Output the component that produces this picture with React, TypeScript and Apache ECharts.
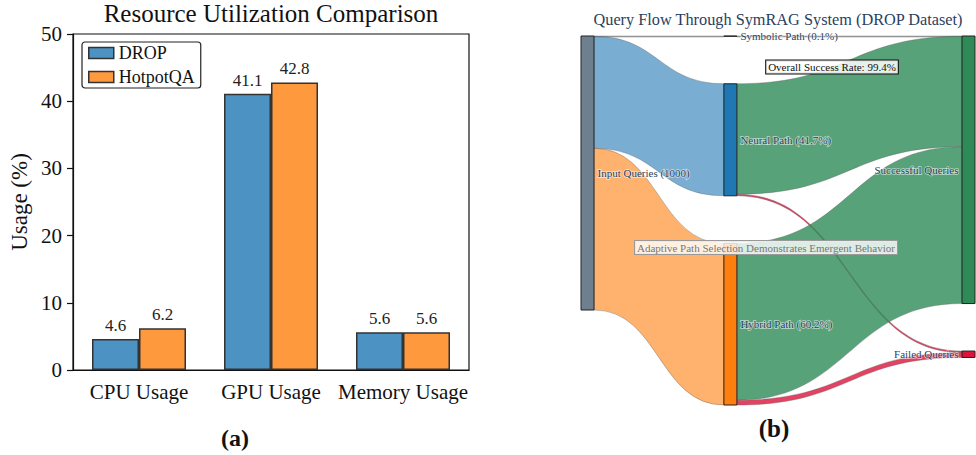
import React, { useEffect, useRef } from 'react';
import * as echarts from 'echarts';

// ---------- Panel (a): bar chart data ----------
const categories = ['CPU Usage', 'GPU Usage', 'Memory Usage'];
const dropUsage = [4.6, 41.1, 5.6];
const hotpotUsage = [6.2, 42.8, 5.6];
const seriesNames = ['DROP', 'HotpotQA'];

// ---------- Panel (b): sankey data ----------
const sankeyNodes = [
  'Input Queries (1000)',
  'Symbolic Path (0.1%)',
  'Neural Path (41.7%)',
  'Hybrid Path (60.2%)',
  'Successful Queries',
  'Failed Queries',
];
const sankeyLevels = [0, 3, 3, 3, 8, 8];
const linkSources = [0, 0, 0, 1, 2, 2, 3, 3];
const linkTargets = [1, 2, 3, 4, 4, 5, 4, 5];
const linkValues = [1, 417, 602, 1, 411, 6, 584, 18];

// styles (kept apart from the data)
const nodeColors = ['#6e7f90', '#333333', '#1f77b4', '#ff7f0e', '#2e8b57', '#dc143c'];
const linkColors = [
  'rgba(120,120,120,0.6)',
  'rgba(31,119,180,0.6)',
  'rgba(255,127,14,0.6)',
  'rgba(120,120,120,0.6)',
  'rgba(46,139,87,0.8)',
  'rgba(220,20,60,0.8)',
  'rgba(46,139,87,0.8)',
  'rgba(220,20,60,0.8)',
];

const SERIF = "'Liberation Serif', 'DejaVu Serif', serif";

export default function App() {
  const ref = useRef<HTMLDivElement>(null);

  useEffect(() => {
    document.body.style.margin = '0';
    if (!ref.current) return;
    const chart = echarts.init(ref.current, undefined, { renderer: 'svg' });

    const axisLineStyle = { color: '#111', width: 1.2 };

    const option: any = {
      animation: false,
      textStyle: { fontFamily: SERIF },
      title: [
        {
          text: 'Resource Utilization Comparison',
          left: 271,
          top: 1,
          textAlign: 'center',
          padding: 0,
          textStyle: { fontFamily: SERIF, fontSize: 25, fontWeight: 'normal', color: '#111' },
        },
        {
          text: 'Query Flow Through SymRAG System (DROP Dataset)',
          left: 778,
          top: 11,
          textAlign: 'center',
          padding: 0,
          textStyle: { fontFamily: SERIF, fontSize: 16.3, fontWeight: 'normal', color: '#2a3f5f' },
        },
      ],
      legend: {
        data: seriesNames,
        orient: 'vertical',
        left: 82,
        top: 42,
        itemWidth: 25,
        itemHeight: 11,
        itemGap: 6,
        padding: [2, 6],
        icon: 'rect',
        borderColor: '#222',
        borderWidth: 1.2,
        borderRadius: 3,
        backgroundColor: 'rgba(255,255,255,0.8)',
        itemStyle: { borderColor: '#333', borderWidth: 1.5 },
        textStyle: { fontFamily: SERIF, fontSize: 18, lineHeight: 18, color: '#111' },
      },
      grid: {
        left: 73,
        top: 34,
        width: 396,
        height: 336,
        show: true,
        borderColor: '#111',
        borderWidth: 1.2,
      },
      xAxis: {
        type: 'category',
        data: categories,
        axisLine: { lineStyle: axisLineStyle },
        axisTick: { alignWithLabel: true, length: 6, lineStyle: axisLineStyle },
        axisLabel: { fontFamily: SERIF, fontSize: 21, color: '#111', margin: 11, interval: 0 },
        splitLine: { show: false },
      },
      yAxis: {
        type: 'value',
        min: 0,
        max: 50,
        interval: 10,
        name: 'Usage (%)',
        nameLocation: 'middle',
        nameRotate: 90,
        nameGap: 42,
        nameTextStyle: { fontFamily: SERIF, fontSize: 23, color: '#111' },
        axisLine: { show: true, lineStyle: axisLineStyle },
        axisTick: { show: true, length: 6, lineStyle: axisLineStyle },
        axisLabel: { fontFamily: SERIF, fontSize: 21, color: '#111', margin: 11 },
        splitLine: { show: false },
      },
      series: [
        {
          name: seriesNames[0],
          type: 'bar',
          data: dropUsage,
          barWidth: 47,
          barGap: '0%',
          itemStyle: { color: '#4c92c3', borderColor: '#333', borderWidth: 1.5 },
          label: {
            show: true,
            position: 'top',
            distance: 5,
            fontFamily: SERIF,
            fontSize: 17,
            color: '#222',
            formatter: (p: any) => Number(p.value).toFixed(1),
          },
        },
        {
          name: seriesNames[1],
          type: 'bar',
          data: hotpotUsage,
          barWidth: 47,
          barGap: '0%',
          itemStyle: { color: '#ff993e', borderColor: '#333', borderWidth: 1.5 },
          label: {
            show: true,
            position: 'top',
            distance: 5,
            fontFamily: SERIF,
            fontSize: 17,
            color: '#222',
            formatter: (p: any) => Number(p.value).toFixed(1),
          },
        },
        {
          type: 'sankey',
          left: 581,
          top: 36,
          width: 394,
          height: 369,
          nodeWidth: 13,
          nodeGap: 47.5,
          layoutIterations: 0,
          draggable: false,
          emphasis: { disabled: true },
          data: sankeyNodes.map((name, i) => ({
            name,
            depth: sankeyLevels[i],
            itemStyle: { color: nodeColors[i] },
            label: { position: i >= 4 ? 'left' : 'right' },
          })),
          links: linkValues.map((v, i) => ({
            source: sankeyNodes[linkSources[i]],
            target: sankeyNodes[linkTargets[i]],
            value: v,
            lineStyle: { color: linkColors[i] },
          })),
          itemStyle: { borderColor: '#222', borderWidth: 1 },
          lineStyle: {
            opacity: 1,
            curveness: 0.5,
            borderColor: 'rgba(90,90,90,0.6)',
            borderWidth: 0.6,
          },
          label: {
            fontFamily: SERIF,
            fontSize: 11,
            color: '#2a3f5f',
            distance: 3,
            textBorderColor: 'rgba(255,255,255,0.6)',
            textBorderWidth: 1.5,
          },
        },
      ],
      graphic: [
        {
          type: 'text',
          x: 235,
          y: 438,
          z: 100,
          style: {
            text: '(a)',
            font: `bold 24px ${SERIF}`,
            fill: '#111',
            align: 'center',
            verticalAlign: 'middle',
            textAlign: 'center',
            textVerticalAlign: 'middle',
          },
        },
        {
          type: 'text',
          x: 774,
          y: 428,
          z: 100,
          style: {
            text: '(b)',
            font: `bold 25px ${SERIF}`,
            fill: '#111',
            align: 'center',
            verticalAlign: 'middle',
            textAlign: 'center',
            textVerticalAlign: 'middle',
          },
        },
        {
          type: 'text',
          x: 832,
          y: 67,
          z: 100,
          style: {
            text: 'Overall Success Rate: 99.4%',
            font: `11px ${SERIF}`,
            fill: '#111',
            align: 'center',
            verticalAlign: 'middle',
            textAlign: 'center',
            textVerticalAlign: 'middle',
            backgroundColor: 'rgba(255,255,255,0.85)',
            borderColor: '#111',
            borderWidth: 1,
            padding: [1, 2],
          },
        },
        {
          type: 'text',
          x: 766,
          y: 247.5,
          z: 100,
          style: {
            text: 'Adaptive Path Selection Demonstrates Emergent Behavior',
            font: `11px ${SERIF}`,
            fill: '#777',
            align: 'center',
            verticalAlign: 'middle',
            textAlign: 'center',
            textVerticalAlign: 'middle',
            backgroundColor: 'rgba(255,255,255,0.8)',
            borderColor: '#999',
            borderWidth: 1,
            padding: [1, 2],
          },
        },
      ],
    };

    chart.setOption(option);
    return () => chart.dispose();
  }, []);

  return <div ref={ref} style={{ width: 976, height: 455 }} />;
}
